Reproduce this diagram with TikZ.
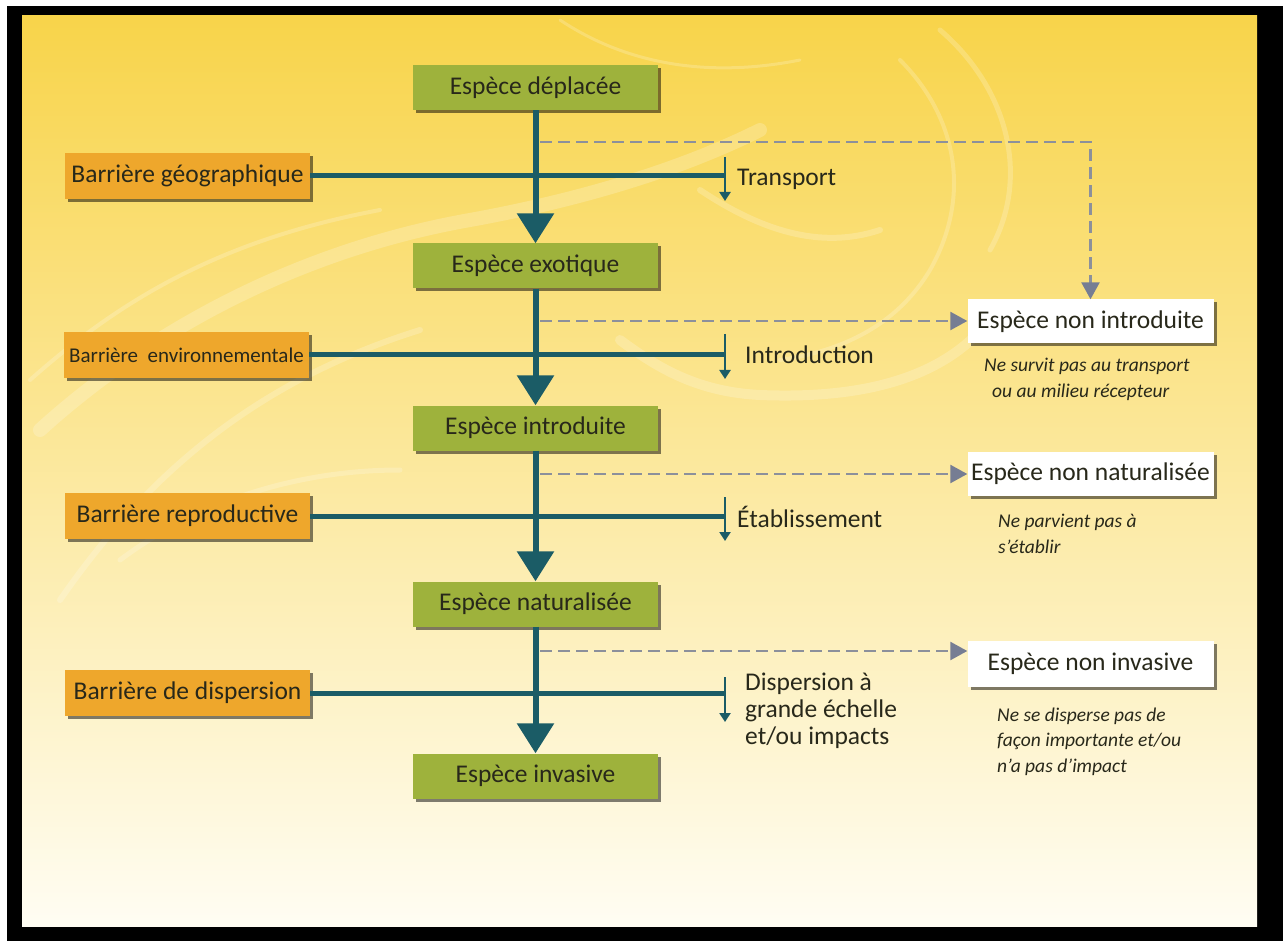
\documentclass[tikz,border=0pt]{standalone}
\usepackage{fontspec}
\setmainfont{Carlito}
\usetikzlibrary{arrows.meta,shadows}
\definecolor{bgtop}{HTML}{F8D44A}
\definecolor{bgmid}{HTML}{FBE897}
\definecolor{bgbot}{HTML}{FFFDF3}
\definecolor{boxgreen}{HTML}{9EB23C}
\definecolor{boxorange}{HTML}{EEA72C}
\definecolor{tealdark}{HTML}{1B5C66}
\definecolor{dashgray}{HTML}{8C909B}
\definecolor{tipgray}{HTML}{767D93}
\definecolor{txtdark}{HTML}{28281A}
\begin{document}
\begin{tikzpicture}[x=1pt,y=-1pt,
  basebox/.style={rectangle, inner sep=0pt, text=txtdark,
    font=\fontsize{25.5}{30}\selectfont,
    drop shadow={shadow xshift=3pt, shadow yshift=-3pt, fill=black, opacity=0.5}},
  spbox/.style={basebox, fill=boxgreen, minimum width=245pt, minimum height=45pt},
  barbox/.style={basebox, fill=boxorange, minimum width=245pt, minimum height=46pt},
  nonbox/.style={basebox, fill=white, minimum width=246pt, minimum height=44pt},
  lab/.style={inner sep=0pt, anchor=base west, align=left, text=txtdark,
    font=\fontsize{25.5}{27}\selectfont},
  capt/.style={inner sep=0pt, anchor=base west, align=left, text=txtdark,
    font=\fontsize{19.5}{25.5}\selectfont\itshape},
  trunk/.style={draw=tealdark, line width=6pt, -{Triangle[width=36pt,length=30pt]}},
  barline/.style={draw=tealdark, line width=5pt},
  tickar/.style={draw=tealdark, line width=2.2pt, -{Triangle[width=11pt,length=9pt]}},
  dashar/.style={draw=dashgray, line width=2.5pt, dash pattern=on 12pt off 6pt,
    -{Triangle[width=18pt,length=17pt,fill=tipgray,color=tipgray]}},
  swirl/.style={draw=white, line cap=round, opacity=0.2}
]
\useasboundingbox (0,0) rectangle (1283,941);
% frame and background
\fill[white] (0,0) rectangle (1283,941);
\fill[black] (7,6) rectangle (1283,941);
\shade[top color=bgtop, middle color=bgmid, bottom color=bgbot] (22,16) rectangle (1257,926);
% background swirls
\begin{scope}
\clip (22,16) rectangle (1257,926);
\draw[swirl, line width=14pt] (40,430) .. controls (150,330) and (300,250) .. (470,220) .. controls (580,200) and (680,170) .. (760,130);
\draw[swirl, line width=6pt] (60,600) .. controls (150,470) and (260,380) .. (420,330);
\draw[swirl, line width=4pt] (30,380) .. controls (120,300) and (220,240) .. (380,210);
\draw[swirl, line width=10pt] (1000,305) .. controls (960,370) and (880,400) .. (760,395) .. controls (700,392) and (660,370) .. (620,340);
\draw[swirl, line width=5pt] (940,30) .. controls (1010,90) and (1030,180) .. (990,250);
\draw[swirl, line width=4pt] (900,60) .. controls (960,120) and (970,200) .. (930,270) .. controls (900,320) and (850,350) .. (780,360);
\draw[swirl, line width=6pt] (700,190) .. controls (760,230) and (820,250) .. (880,230);
\draw[swirl, line width=3pt] (560,20) .. controls (620,60) and (700,80) .. (800,60);
\draw[swirl, line width=5pt] (120,560) .. controls (200,500) and (300,470) .. (400,470);
\end{scope}
% species boxes
\node[spbox] (d1) at (535.5,87.5) {Espèce déplacée};
\node[spbox] (d2) at (535.5,266) {Espèce exotique};
\node[spbox] (d3) at (535.5,428) {Espèce introduite};
\node[spbox] (d4) at (535.5,604) {Espèce naturalisée};
\node[spbox] (d5) at (535.5,776) {Espèce invasive};
% barrier boxes
\node[barbox] (b1) at (187.5,176) {Barrière géographique};
\node[barbox, font=\fontsize{21}{25}\selectfont] (b2) at (186.5,355) {Barrière\ \ environnementale};
\node[barbox] (b3) at (187.5,516) {Barrière reproductive};
\node[barbox] (b4) at (187.5,693) {Barrière de dispersion};
% non-species boxes
\node[nonbox] (n1) at (1090.5,321.5) {Espèce non introduite};
\node[nonbox] (n2) at (1090.5,474) {Espèce non naturalisée};
\node[nonbox, minimum height=46pt] (n3) at (1090.5,664) {Espèce non invasive};
% coordinates
\coordinate (s1) at (540,142);
\coordinate (s2) at (540,321);
\coordinate (s3) at (540,474);
\coordinate (s4) at (540,651);
\coordinate (e1) at (725,176);
\coordinate (e2) at (725,355);
\coordinate (e3) at (725,516);
\coordinate (e4) at (725,693);
\coordinate (t1a) at (725,157);
\coordinate (t1b) at (725,201);
\coordinate (t2a) at (725,334);
\coordinate (t2b) at (725,379);
\coordinate (t3a) at (725,497);
\coordinate (t3b) at (725,541);
\coordinate (t4a) at (725,677);
\coordinate (t4b) at (725,722);
% dashed connectors
\draw[dashar] (s1) -| (n1.north);
\draw[dashar] (s2) -- (s2 -| n1.west);
\draw[dashar] (s3) -- (s3 -| n2.west);
\draw[dashar] (s4) -- (s4 -| n3.west);
% barrier lines
\draw[barline] (b1.east) -- (e1);
\draw[barline] (b2.east) -- (e2);
\draw[barline] (b3.east) -- (e3);
\draw[barline] (b4.east) -- (e4);
\draw[tickar] (t1a) -- (t1b);
\draw[tickar] (t2a) -- (t2b);
\draw[tickar] (t3a) -- (t3b);
\draw[tickar] (t4a) -- (t4b);
% trunk
\draw[trunk] (d1) -- (d2);
\draw[trunk] (d2) -- (d3);
\draw[trunk] (d3) -- (d4);
\draw[trunk] (d4) -- (d5);
% stage labels (base = baseline of last line)
\node[lab] (l1) at (737,186) {Transport};
\node[lab] (l2) at (745,363) {Introduction};
\node[lab] (l3) at (737,527) {Établissement};
\node[lab] (l4) at (745,744) {Dispersion à\\grande échelle\\et/ou impacts};
% captions
\node[capt] (c1) at (984,397) {Ne survit pas au transport\\\hspace*{8pt}ou au milieu récepteur};
\node[capt] (c2) at (998,553) {Ne parvient pas à\\s’établir};
\node[capt] (c3) at (997,772) {Ne se disperse pas de\\façon importante et/ou\\n’a pas d’impact};
\end{tikzpicture}
\end{document}
